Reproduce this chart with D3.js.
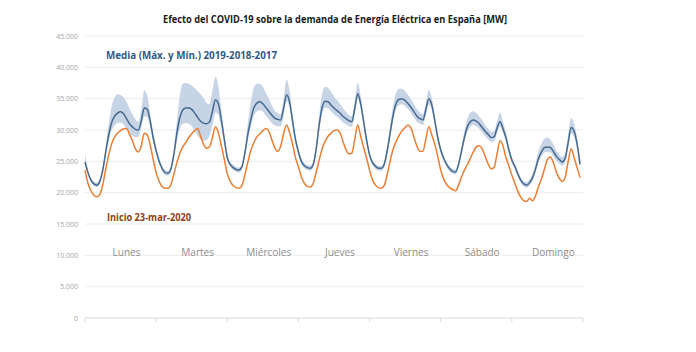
<!DOCTYPE html>
<html>
<head>
<meta charset="utf-8">
<script src="https://cdn.jsdelivr.net/npm/d3@7"></script>
<style>
  body { margin: 0; background: #fff; }
  text { font-family: 'Open Sans', 'Liberation Sans', sans-serif; }
</style>
</head>
<body>
<div id="chart"></div>
<script>
// day names (one per day, 24 hourly values each)
const days = ['Lunes', 'Martes', 'Miércoles', 'Jueves', 'Viernes', 'Sábado', 'Domingo'];
const yTicks = [0, 5000, 10000, 15000, 20000, 25000, 30000, 35000, 40000, 45000];

// media 2019-2018-2017 (MW), hourly, Monday 00h -> Sunday 23h
const mediaMW = [
  24900, 23200, 22000, 21400, 21200, 21800, 23600, 26500, 29200, 31200, 32200, 32700, 32900, 32600, 31800, 31000, 30500, 30100, 30000, 31500, 33500, 33300, 31400, 28800,
  26700, 25000, 23900, 23200, 23100, 23800, 26200, 29500, 32000, 33200, 33500, 33500, 33300, 32700, 32000, 31400, 31100, 31000, 31300, 33000, 34800, 34200, 31600, 28500,
  25600, 24500, 24000, 23700, 23600, 24200, 26500, 29500, 31800, 33600, 34300, 34500, 34200, 33600, 33000, 32400, 31900, 31700, 31600, 33500, 35600, 34500, 31500, 28500,
  26500, 25000, 24300, 24000, 23900, 24500, 27000, 30800, 33600, 34600, 34500, 34000, 33500, 33100, 32700, 32200, 31800, 31500, 31300, 33400, 35800, 34200, 31300, 28400,
  26000, 24800, 24200, 23900, 23900, 24600, 26800, 29700, 32500, 34300, 34900, 35000, 34700, 34200, 33600, 32900, 32200, 31800, 31600, 33300, 35000, 34000, 31500, 28800,
  26800, 25500, 24500, 23800, 23400, 23300, 24500, 26600, 28800, 30500, 31300, 31600, 31400, 31000, 30400, 29800, 29300, 28800, 28900, 30300, 31300, 30200, 28800, 26800,
  25200, 24200, 23000, 22000, 21400, 21200, 21600, 22400, 23800, 25500, 26500, 27200, 27300, 27200, 26600, 25800, 25300, 24900, 25500, 28000, 30400, 29800, 27800, 24500
];

// maximo 2019-2018-2017 (MW)
const maxMW = [
  26300, 23700, 22400, 21800, 21600, 22300, 24300, 27500, 31000, 33800, 35200, 35700, 35600, 35200, 34500, 33400, 32500, 31700, 31300, 33300, 36300, 35500, 32600, 29600,
  27300, 25500, 24300, 23600, 23500, 24300, 27000, 31500, 35500, 37400, 37500, 37400, 37100, 36700, 36200, 35700, 35100, 34300, 34100, 36300, 38500, 37000, 33100, 29400,
  26100, 24900, 24400, 24100, 24000, 24700, 27300, 31300, 34600, 36800, 37400, 37400, 36900, 35900, 35000, 34000, 33100, 32700, 32500, 35000, 38000, 36300, 32500, 29200,
  27000, 25400, 24700, 24400, 24300, 25000, 27900, 32300, 35800, 36900, 36700, 36100, 35400, 34800, 34200, 33500, 32900, 32400, 32200, 34600, 37500, 35500, 32200, 29100,
  26500, 25200, 24600, 24300, 24300, 25100, 27600, 30900, 34000, 36000, 36600, 36600, 36200, 35600, 34900, 34100, 33300, 32800, 32500, 34400, 36400, 35100, 32300, 29400,
  27300, 25900, 24900, 24200, 23800, 23700, 25000, 27300, 29800, 31800, 32800, 33000, 32700, 32200, 31500, 30800, 30200, 29700, 29800, 31400, 32800, 31300, 29600, 27400,
  25700, 24600, 23400, 22400, 21800, 21700, 22200, 23100, 24700, 26600, 27800, 28600, 28800, 28500, 27700, 26700, 26100, 25700, 26400, 29300, 31900, 31000, 28700, 25100
];

// minimo 2019-2018-2017 (MW)
const minMW = [
  24600, 22900, 21700, 21100, 20900, 21500, 23200, 25900, 28300, 29900, 30700, 31100, 31200, 30900, 30100, 29400, 29100, 28900, 28900, 30300, 32200, 32100, 30400, 28100,
  26200, 24600, 23500, 22800, 22700, 23400, 25600, 28300, 30200, 31000, 31100, 31000, 30600, 29900, 29100, 28500, 28300, 28400, 29100, 30700, 32800, 32400, 30300, 27700,
  25200, 24100, 23600, 23300, 23200, 23800, 25900, 28600, 30600, 32300, 33000, 33200, 32900, 32300, 31700, 31100, 30700, 30600, 30600, 32300, 34600, 33600, 30700, 27900,
  26100, 24600, 23900, 23600, 23500, 24100, 26400, 29900, 32600, 33600, 33500, 33000, 32500, 32100, 31700, 31200, 30900, 30600, 30500, 32500, 34900, 33400, 30600, 27800,
  25600, 24400, 23800, 23500, 23500, 24200, 26200, 28900, 31600, 33400, 34000, 34100, 33800, 33300, 32700, 32000, 31300, 31000, 30800, 32400, 34100, 33200, 30800, 28200,
  26400, 25100, 24100, 23400, 23000, 22900, 24100, 26100, 28200, 29800, 30500, 30800, 30600, 30200, 29600, 29000, 28500, 28100, 28200, 29500, 30500, 29500, 28200, 26300,
  24800, 23800, 22600, 21600, 21000, 20800, 21200, 21900, 23200, 24800, 25800, 26400, 26500, 26400, 25800, 25100, 24600, 24300, 24900, 27200, 29500, 28900, 27100, 24000
];

// semana desde el 23-mar-2020 (MW)
const covidMW = [
  23600, 21500, 20300, 19600, 19350, 19700, 21300, 23800, 26000, 27800, 28900, 29500, 29900, 30200, 30250, 29300, 28300, 27000, 26500, 27500, 29500, 29200, 27600, 25300,
  23200, 21800, 21000, 20700, 20700, 21300, 23000, 24800, 26300, 27300, 28000, 28800, 29400, 29900, 30250, 29000, 27700, 27100, 27300, 28800, 30500, 29500, 27500, 25300,
  23000, 21800, 21100, 20800, 20700, 21200, 23000, 25000, 26800, 28000, 28900, 29400, 29900, 30250, 29800, 28500, 27200, 26600, 27400, 29400, 30800, 29600, 27800, 25600,
  24100, 22500, 21500, 21000, 20900, 21500, 23300, 25200, 27000, 28200, 29000, 29500, 29900, 30000, 29600, 28200, 26900, 26200, 26300, 28500, 30800, 29000, 27200, 25500,
  23600, 22000, 21200, 20800, 20700, 21200, 23000, 25200, 27000, 28200, 29200, 29900, 30400, 30800, 30300, 28800, 27400, 26600, 26600, 28600, 30500, 29200, 27700, 25800,
  23600, 22200, 21300, 20800, 20500, 20300, 21200, 22500, 23600, 24500, 25500, 26500, 27300, 27500, 27000, 25800, 24600, 23800, 24000, 26200, 28300, 27500, 25600, 24300,
  22800, 21500, 20200, 19300, 18700, 18600, 19100, 18700, 19500, 21000, 22200, 23800, 25300, 25700, 24800, 23300, 22300, 21800, 22500, 25000, 27000, 25600, 24000, 22400
];

const width = 696, height = 352;
const margin = { top: 36, right: 113, bottom: 34, left: 85 };

const svg = d3.select('#chart')
    .append('svg')
    .attr('width', width)
    .attr('height', height);

// scales
const x = d3.scaleLinear()
    .domain([0, days.length * 24])
    .range([margin.left, width - margin.right]);
const y = d3.scaleLinear()
    .domain([0, 45000])
    .range([height - margin.bottom, margin.top]);

// title
svg.append('text')
    .attr('x', 335)
    .attr('y', 23)
    .attr('text-anchor', 'middle')
    .attr('textLength', 344)
    .attr('lengthAdjust', 'spacingAndGlyphs')
    .style('font-size', '11px')
    .style('font-weight', 'bold')
    .style('fill', '#1a1a1a')
    .text('Efecto del COVID-19 sobre la demanda de Energía Eléctrica en España [MW]');

// grid lines
svg.append('g')
    .selectAll('line')
    .data(yTicks.filter(d => d > 0))
    .join('line')
    .attr('x1', x(0))
    .attr('x2', x(days.length * 24))
    .attr('y1', d => y(d))
    .attr('y2', d => y(d))
    .style('stroke', '#ececec')
    .style('stroke-width', 1);

// y tick labels
svg.append('g')
    .selectAll('text')
    .data(yTicks)
    .join('text')
    .attr('x', 78)
    .attr('y', d => y(d) + 2.5)
    .attr('text-anchor', 'end')
    .style('font-size', '7px')
    .style('fill', '#a6a6a6')
    .text(d => d3.format(',')(d).replace(/,/g, '.'));

// x axis line with day boundary ticks
svg.append('line')
    .attr('x1', x(0))
    .attr('x2', x(days.length * 24))
    .attr('y1', y(0))
    .attr('y2', y(0))
    .style('stroke', '#d9d9d9');
svg.append('g')
    .selectAll('line')
    .data(d3.range(days.length + 1))
    .join('line')
    .attr('x1', d => x(d * 24))
    .attr('x2', d => x(d * 24))
    .attr('y1', y(0))
    .attr('y2', y(0) + 4)
    .style('stroke', '#d9d9d9');

// day labels (sit a little right of each day's centre, as in the original)
svg.append('g')
    .selectAll('text')
    .data(days)
    .join('text')
    .attr('x', (d, i) => x(i * 24 + 14))
    .attr('y', 256)
    .attr('text-anchor', 'middle')
    .style('font-size', '10px')
    .style('fill', '#8c8c8c')
    .text(d => d);

const hours = d3.range(mediaMW.length);

// min/max band
svg.append('path')
    .datum(hours)
    .attr('d', d3.area()
        .curve(d3.curveMonotoneX)
        .x(i => x(i))
        .y0(i => y(minMW[i]))
        .y1(i => y(maxMW[i])))
    .style('fill', '#bccde0')
    .style('opacity', 0.85);

// media line
svg.append('path')
    .datum(hours)
    .attr('d', d3.line()
        .curve(d3.curveMonotoneX)
        .x(i => x(i))
        .y(i => y(mediaMW[i])))
    .style('fill', 'none')
    .style('stroke', '#45698f')
    .style('stroke-width', 1.5);

// 2020 line
svg.append('path')
    .datum(hours)
    .attr('d', d3.line()
        .curve(d3.curveMonotoneX)
        .x(i => x(i))
        .y(i => y(covidMW[i])))
    .style('fill', 'none')
    .style('stroke', '#ed7d31')
    .style('stroke-width', 1.5);

// series labels
svg.append('text')
    .attr('x', 106)
    .attr('y', 59)
    .attr('textLength', 171)
    .attr('lengthAdjust', 'spacingAndGlyphs')
    .style('font-size', '10px')
    .style('font-weight', 'bold')
    .style('fill', '#2f5a85')
    .text('Media (Máx. y Mín.) 2019-2018-2017');

svg.append('text')
    .attr('x', 107)
    .attr('y', 221)
    .attr('textLength', 84)
    .attr('lengthAdjust', 'spacingAndGlyphs')
    .style('font-size', '10px')
    .style('font-weight', 'bold')
    .style('fill', '#8e3f14')
    .text('Inicio 23-mar-2020');
</script>
</body>
</html>
